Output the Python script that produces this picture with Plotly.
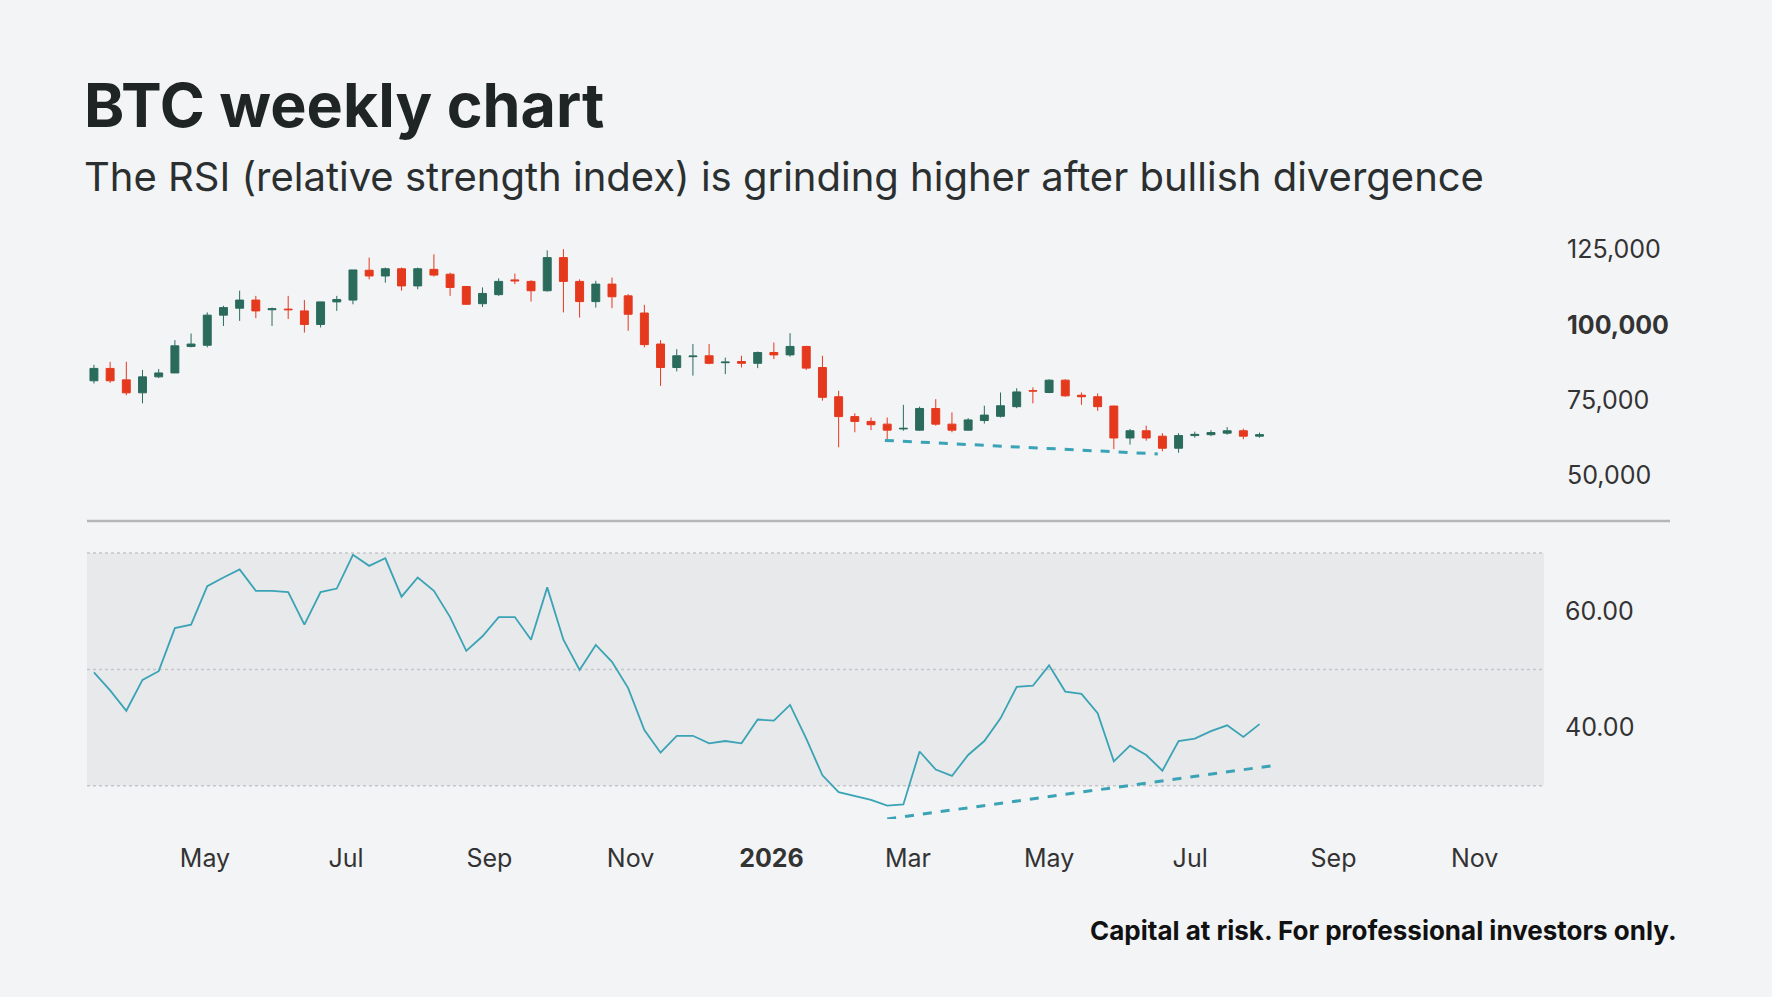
import pandas as pd
import plotly.graph_objects as go

# ---- data (weekly, thousands USD) ----
opens = [81.4, 85.5, 81.7, 77.4, 82.7, 84.0, 92.8, 93.2, 103.2, 105.5, 108.2, 105.0, 105.2, 104.6, 100.1, 107.6, 108.2,
         118.1, 116.2, 118.6, 112.9, 118.4, 116.8, 112.7, 107.0, 110.0, 114.9, 114.4, 111.3, 122.3, 114.4, 107.7, 113.5,
         109.6, 103.9, 93.6, 85.8, 89.4, 89.7, 87.4, 87.8, 87.2, 90.8, 90.0, 92.8, 85.8, 76.1, 69.5, 67.9, 67.0, 65.4,
         65.0, 72.2, 67.0, 65.0, 68.2, 69.6, 72.8, 78.1, 77.5, 81.6, 76.6, 76.1, 73.0, 62.4, 64.8, 63.0, 59.0, 63.2,
         63.5, 64.0, 64.8, 63.0]
highs = [86.7, 87.7, 87.7, 85.0, 85.3, 94.9, 97.1, 104.1, 106.3, 111.3, 109.6, 105.7, 109.6, 108.2, 107.6, 109.6, 118.2,
         122.3, 119.0, 119.0, 119.0, 123.4, 117.3, 112.9, 112.4, 115.4, 117.0, 114.8, 124.7, 125.1, 115.1, 114.6, 115.7,
         110.2, 106.6, 94.9, 91.9, 93.6, 93.6, 89.1, 89.7, 91.1, 94.1, 97.2, 93.0, 89.7, 78.1, 70.6, 69.2, 69.2, 73.4,
         72.8, 75.3, 70.9, 69.0, 73.1, 77.5, 78.9, 79.2, 81.9, 81.9, 77.5, 77.2, 73.1, 65.4, 66.5, 64.0, 64.0, 64.5,
         65.0, 66.0, 65.5, 64.2]
lows = [80.5, 80.7, 76.6, 73.9, 82.3, 84.0, 92.5, 92.5, 99.6, 101.3, 102.2, 99.6, 101.9, 97.4, 99.1, 104.6, 106.8,
        115.1, 114.0, 111.3, 111.8, 116.0, 109.6, 106.6, 105.9, 109.6, 113.5, 107.7, 111.0, 104.1, 102.4, 105.7, 105.5,
        98.0, 92.5, 79.7, 84.5, 83.1, 86.9, 83.6, 85.8, 85.6, 88.6, 89.4, 85.0, 74.8, 59.3, 64.3, 65.0, 62.0, 64.8,
        64.8, 66.5, 64.3, 64.8, 67.2, 69.2, 72.3, 73.9, 77.3, 76.1, 73.4, 71.4, 58.7, 60.2, 61.5, 58.0, 57.5, 62.5,
        63.0, 63.5, 62.0, 62.5]
closes = [85.5, 81.4, 77.4, 82.7, 84.0, 93.0, 93.6, 103.2, 105.7, 108.2, 104.6, 105.3, 105.0, 100.1, 107.6, 108.4, 118.2,
          116.2, 118.6, 112.9, 118.6, 116.5, 112.4, 106.8, 110.4, 114.4, 114.6, 111.3, 122.3, 114.4, 107.7, 113.5, 109.3,
          103.5, 93.4, 85.8, 89.7, 89.6, 87.2, 87.6, 87.2, 90.8, 90.0, 92.8, 85.6, 75.9, 69.5, 67.9, 66.8, 65.0, 65.6,
          72.2, 67.0, 65.0, 68.4, 70.0, 73.1, 77.7, 78.0, 81.6, 76.4, 76.1, 72.8, 62.4, 64.8, 62.4, 59.0, 63.2, 63.6,
          64.2, 64.8, 63.0, 63.5]
rsi = [49.5, 46.4, 42.9, 48.2, 49.7, 57.1, 57.7, 64.3, 65.8, 67.2, 63.5, 63.5, 63.3, 57.7, 63.3, 63.9, 69.7, 67.8, 69.1,
       62.5, 65.8, 63.5, 59.0, 53.2, 55.7, 59.0, 59.0, 55.1, 64.1, 55.1, 49.9, 54.2, 51.3, 46.8, 39.6, 35.7, 38.6, 38.6,
       37.3, 37.7, 37.3, 41.4, 41.2, 43.9, 38.1, 31.8, 28.9, 28.3, 27.6, 26.6, 26.8, 35.9, 32.8, 31.7, 35.3, 37.7, 41.6,
       47.0, 47.2, 50.7, 46.2, 45.8, 42.5, 34.2, 36.9, 35.3, 32.6, 37.7, 38.1, 39.4, 40.4, 38.4, 40.6]
start_date = "2025-03-14"
dates = pd.date_range(start_date, periods=len(closes), freq="7D")

price_trend_x = ["2026-02-19", "2026-06-17"]
price_trend_y = [61.6, 57.1]
rsi_trend_x = ["2026-02-20", "2026-08-08"]
rsi_trend_y = [24.3, 33.6]

tick_dates = ["2025-05-01", "2025-07-01", "2025-09-01", "2025-11-01", "2026-01-01",
              "2026-03-01", "2026-05-01", "2026-07-01", "2026-09-01", "2026-11-01"]
tick_text = ["May", "Jul", "Sep", "Nov", "<b>2026</b>", "Mar", "May", "Jul", "Sep", "Nov"]
price_ticks = [50, 75, 100, 125]
price_ticktext = ["50,000", "75,000", "<b>100,000</b>", "125,000"]
rsi_ticks = [40, 60]
rsi_ticktext = ["40.00", "60.00"]

GREEN = "#2a6b5c"
RED = "#e5391e"
TEAL = "#3aa3b5"
BG = "#f3f4f6"
FONT = "Inter"

fig = go.Figure()
fig.add_trace(go.Candlestick(
    x=dates, open=opens, high=highs, low=lows, close=closes,
    increasing=dict(line=dict(color=GREEN, width=1), fillcolor=GREEN),
    decreasing=dict(line=dict(color=RED, width=1), fillcolor=RED),
    whiskerwidth=0, xaxis="x", yaxis="y", showlegend=False, hoverinfo="skip"))
fig.add_trace(go.Scatter(x=price_trend_x, y=price_trend_y, mode="lines",
                         line=dict(color=TEAL, width=3, dash="dash"), xaxis="x", yaxis="y", showlegend=False))
fig.add_trace(go.Scatter(x=dates, y=rsi, mode="lines", line=dict(color=TEAL, width=1.8),
                         xaxis="x2", yaxis="y2", showlegend=False))
fig.add_trace(go.Scatter(x=rsi_trend_x, y=rsi_trend_y, mode="lines",
                         line=dict(color=TEAL, width=3, dash="dash"), xaxis="x2", yaxis="y2", showlegend=False))

xr = ["2025-03-11", "2026-12-01"]
L, R, T, B = 87, 1544, 226, 819
W, H = 1772, 997

def px(xp):
    return (xp - L) / (R - L)

def py(yp):
    return (B - yp) / (B - T)

axis_font = dict(family=FONT, size=25, color="#333333")
fig.update_layout(
    width=W, height=H,
    margin=dict(l=L, r=W - R, t=T, b=H - B),
    paper_bgcolor=BG, plot_bgcolor=BG,
    font=dict(family=FONT, color="#222222"),
    xaxis=dict(domain=[0, 1], range=xr, showticklabels=False, showgrid=False, zeroline=False,
               rangeslider=dict(visible=False), anchor="y"),
    yaxis=dict(domain=[py(497), 1], range=[42.8, 132.8], side="right", tickvals=price_ticks,
               ticktext=price_ticktext, tickfont=axis_font, showgrid=False, zeroline=False,
               ticklabelstandoff=22, anchor="x"),
    xaxis2=dict(domain=[0, 1], range=xr, tickvals=tick_dates, ticktext=tick_text, tickfont=axis_font,
                showgrid=False, zeroline=False, ticks="", anchor="y2", ticklabelstandoff=22),
    yaxis2=dict(domain=[0, py(542)], range=[24.3, 71.9], side="right", tickvals=rsi_ticks,
                ticktext=rsi_ticktext, tickfont=axis_font, showgrid=False, zeroline=False,
                ticklabelstandoff=20, anchor="x2"),
    shapes=[
        dict(type="rect", xref="x2 domain", yref="y2", x0=0, x1=1, y0=30, y1=70,
             fillcolor="#e8e9eb", line=dict(width=0), layer="below"),
        *[dict(type="line", xref="x2 domain", yref="y2", x0=0, x1=1, y0=v, y1=v,
               line=dict(color="#c4c6c9", width=1.5, dash="dot"), layer="below") for v in (30, 50, 70)],
        dict(type="line", xref="paper", yref="paper", x0=0, x1=px(1670), y0=py(521), y1=py(521),
             line=dict(color="#b5b6b8", width=2.5)),
    ],
    annotations=[
        dict(text="<b>BTC weekly chart</b>", x=px(82), y=py(105), xref="paper", yref="paper",
             xanchor="left", yanchor="middle", showarrow=False,
             font=dict(family=FONT, size=61, color="#1f2424")),
        dict(text="The RSI (relative strength index) is grinding higher after bullish divergence",
             x=px(82), y=py(177), xref="paper", yref="paper", xanchor="left", yanchor="middle",
             showarrow=False, font=dict(family=FONT, size=40, color="#2b2f30")),
        dict(text="<b>Capital at risk. For professional investors only.</b>", x=px(1679), y=py(930),
             xref="paper", yref="paper", xanchor="right", yanchor="middle", showarrow=False,
             font=dict(family=FONT, size=26, color="#111111")),
    ],
)
fig.write_html("out.html", config={"displayModeBar": False},
               post_script="document.body.style.margin='0';document.body.style.background='#f3f4f6';")
